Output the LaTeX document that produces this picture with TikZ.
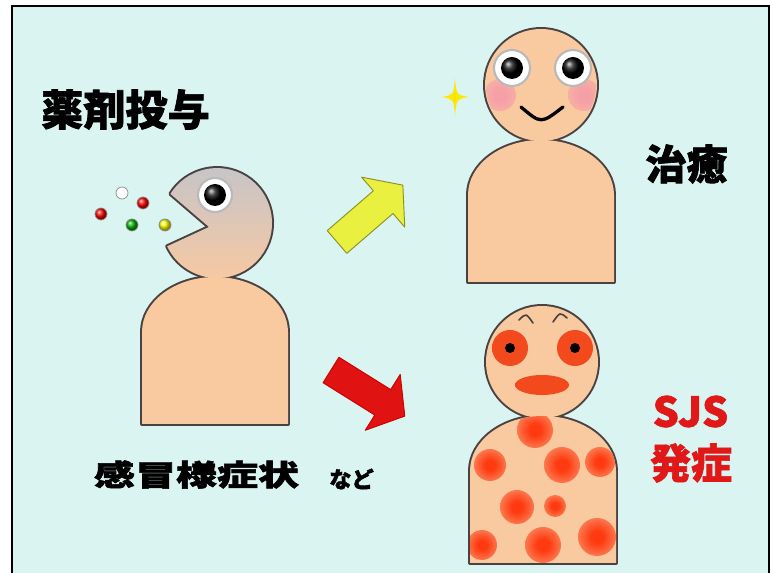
\documentclass[tikz,border=0pt]{standalone}
\usepackage{fontspec}
\newfontfamily\jp{Noto Sans CJK JP}[BoldFeatures={FakeBold=1.6}]
\usetikzlibrary{shadings}

\definecolor{bg}{HTML}{DAF4F1}
\definecolor{skin}{HTML}{F9C9A0}
\definecolor{headgray}{HTML}{C4C4CA}
\definecolor{edge}{HTML}{4A4242}
\definecolor{rashred}{HTML}{FF3A10}
\definecolor{blush}{HTML}{F5A0A6}
\definecolor{sorered}{HTML}{F24A1C}
\definecolor{soreedge}{HTML}{D8301A}
\definecolor{okyellow}{HTML}{EAF040}
\definecolor{ngred}{HTML}{E01212}
\definecolor{sjsred}{HTML}{E01818}

\pgfdeclareradialshading{rash}{\pgfpointorigin}{color(0bp)=(rashred); color(8bp)=(rashred); color(26bp)=(rashred!55!skin); color(50bp)=(skin)}
\pgfdeclareradialshading{cheek}{\pgfpointorigin}{color(0bp)=(blush); color(10bp)=(blush); color(50bp)=(skin)}
\pgfdeclareradialshading{sore}{\pgfpointorigin}{color(0bp)=(sorered); color(36bp)=(sorered); color(50bp)=(soreedge)}

\begin{document}
\begin{tikzpicture}[x=0.03cm, y=-0.03cm,
  rim/.style={draw=edge, line width=3.4pt, line join=round},
  jtext/.style={inner sep=0pt, font=\jp\bfseries},
  eyewhite/.style={fill=white, draw=gray!55, line width=1.8pt},
  pill/.style={draw=black!45, line width=0.6pt}]
\useasboundingbox (0,0) rectangle (770,573);
\fill[bg] (12,6) rectangle (770,573);
\draw[line width=2.2pt] (12,573) -- (12,6) -- (769,6) -- (769,573);

% outlines of the three figures (doubled width, fills go on top)
\path[rim] (142,424) -- (142,332) arc[start angle=180, end angle=360, x radius=73, y radius=55] -- (288,424) -- cycle;
\path[rim] (209,227) -- (170.4,193.9) arc[start angle=212, end angle=515, radius=55] -- cycle;
\path[rim] (468,282) -- (468,195) arc[start angle=180, end angle=360, x radius=73, y radius=55] -- (614,282) -- cycle;
\path[rim] (541,85) circle (56);
\path[rim] (470,563) -- (470,471) arc[start angle=180, end angle=360, x radius=73, y radius=55] -- (616,563) -- cycle;
\path[rim] (542,362) circle (56);

% left: medicine
\fill[skin] (142,424) -- (142,332) arc[start angle=180, end angle=360, x radius=73, y radius=55] -- (288,424) -- cycle;
\shade[top color=headgray, bottom color=skin] (209,227) -- (170.4,193.9) arc[start angle=212, end angle=515, radius=55] -- cycle;
\path[eyewhite] (215,195) circle (17);
\shade[ball color=black] (215,195) circle (11);
\path[pill, fill=white] (122,193) circle (6);
\shade[pill, ball color=red] (143,203) circle (6);
\shade[pill, ball color=red] (101,214) circle (6);
\shade[pill, ball color=green!70!black] (132,225) circle (6);
\shade[pill, ball color=yellow] (165,225) circle (6);

% upper right: cured
\fill[skin] (468,282) -- (468,195) arc[start angle=180, end angle=360, x radius=73, y radius=55] -- (614,282) -- cycle;
\fill[skin] (541,85) circle (56);
\begin{scope}
  \clip (541,85) circle (55);
  \shade[shading=cheek] (500,95) circle (16);
  \shade[shading=cheek] (584,95) circle (16);
\end{scope}
\foreach \ex in {512,573} {
  \path[eyewhite] (\ex,68) circle (18);
  \shade[ball color=black] (\ex,68) circle (11);
}
\draw[line width=2.8pt, line cap=round] (521,107) .. controls (541,124) .. (563,107);
\fill[yellow!90!orange] (455,78) .. controls (456.5,95) .. (469,97) .. controls (456.5,99) .. (455,116)
  .. controls (453.5,99) .. (442,97) .. controls (453.5,95) .. cycle;

% lower right: SJS
\fill[skin] (470,563) -- (470,471) arc[start angle=180, end angle=360, x radius=73, y radius=55] -- (616,563) -- cycle;
\fill[skin] (542,362) circle (56);
\begin{scope}
  \clip (470,563) -- (470,471) arc[start angle=180, end angle=360, x radius=73, y radius=55] -- (616,563) -- cycle;
  \foreach \sx/\sy/\sr in {535/430/18, 490/465/16, 562/465/18, 600/462/15, 517/507/17,
                          555/506/11, 482/545/15, 543/545/18, 597/537/19}
    \shade[shading=rash] (\sx,\sy) circle (\sr);
\end{scope}
\foreach \ex in {510,575} {
  \shade[shading=sore] (\ex,348) circle (18);
  \fill[black] (\ex,348) circle (5);
}
\shade[shading=sore] (542,385) ellipse [x radius=27, y radius=10];
\draw[edge, line width=1.4pt, line cap=round] (519,320) .. controls (526,313) .. (533,323);
\draw[edge, line width=1.4pt, line cap=round] (553,322) .. controls (560,312) .. (567,318);

% arrows
\begin{scope}[shift={(337,242)}, rotate=40.8]
  \filldraw[fill=okyellow, draw=okyellow!60!black, line width=0.8pt, line join=round]
    (0,-15) -- (61,-15) -- (61,-33) -- (87,0) -- (61,33) -- (61,15) -- (0,15) -- cycle;
\end{scope}
\begin{scope}[shift={(331,370)}, rotate=-32]
  \filldraw[fill=ngred, draw=red!80!black, line width=0.8pt, line join=round]
    (0,-15) -- (61,-15) -- (61,-33) -- (87,0) -- (61,33) -- (61,15) -- (0,15) -- cycle;
\end{scope}

% captions
\node[jtext] (dosing) at (125.5,109.5) {\fontsize{36}{36}\selectfont 薬剤投与};
\node[jtext] (cure) at (686.5,164) {\fontsize{35}{35}\selectfont 治癒};
\node[jtext, text=sjsred] (sjs) at (690.5,411.5) {\fontsize{35}{35}\selectfont SJS};
\node[jtext, text=sjsred] (onset) at (691,463) {\fontsize{35}{35}\selectfont 発症};
\node[jtext, xscale=1.4] (cold) at (196.5,474.5) {\fontsize{25}{25}\selectfont 感冒様症状};
\node[jtext] (etc) at (351.5,479) {\fontsize{19}{19}\selectfont など};
\end{tikzpicture}
\end{document}
